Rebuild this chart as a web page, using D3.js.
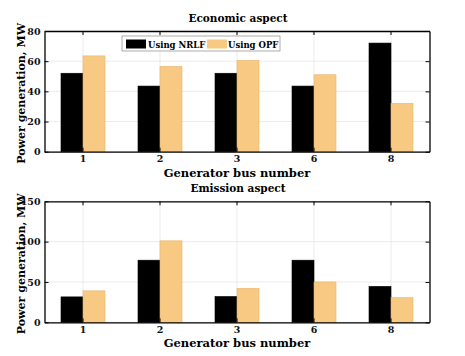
<!DOCTYPE html>
<html><head><meta charset="utf-8">
<script src="https://cdn.jsdelivr.net/npm/d3@7"></script>
<style>body{margin:0;background:#fff}svg{display:block}</style>
</head><body>
<svg id="c" width="465" height="356"></svg>
<script>
const categories = ["1","2","3","6","8"];
const seriesNames = ["Using NRLF","Using OPF"];
const economicNRLF = [52, 43.5, 52, 43.5, 72];
const economicOPF  = [63.5, 56.5, 60.5, 51, 32];
const emissionNRLF = [31.5, 77, 32, 77, 44.5];
const emissionOPF  = [39, 101, 42, 50, 30.5];
const econTicks = [0,20,40,60,80];
const emisTicks = [0,50,100,150];
const colors = ["#000000","#F8C982"];

const svg = d3.select("#c");
const FONT = "DejaVu Serif";
const L = 44.5, R = 429.5;

function panel(top, bottom, title, s1, s2, ymax, ticks, legend){
  const g = svg.append("g");
  const x = d3.scaleBand().domain(categories).range([L,R]).paddingInner(0).paddingOuter(0);
  const y = d3.scaleLinear().domain([0,ymax]).range([bottom,top]);
  const bw = 22;
  // grid
  g.selectAll(".gx").data(categories).enter().append("line")
    .attr("x1",d=>x(d)+x.bandwidth()/2).attr("x2",d=>x(d)+x.bandwidth()/2)
    .attr("y1",top).attr("y2",bottom).attr("stroke","#e6e6e6").attr("stroke-width",0.8);
  g.selectAll(".gy").data(ticks).enter().append("line")
    .attr("x1",L).attr("x2",R).attr("y1",d=>y(d)).attr("y2",d=>y(d))
    .attr("stroke","#e6e6e6").attr("stroke-width",0.8);
  // bars
  const data = categories.map((c,i)=>({c, v:[s1[i], s2[i]]}));
  [0,1].forEach(k=>{
    g.selectAll(".b"+k).data(data).enter().append("rect")
      .attr("x",d=>x(d.c)+x.bandwidth()/2 + (k===0?-bw:0))
      .attr("width",bw)
      .attr("y",d=>y(d.v[k]))
      .attr("height",d=>y(0)-y(d.v[k]))
      .attr("fill",colors[k])
      .attr("stroke", k===0?"#000":"#e8b46a").attr("stroke-width",0.6);
  });
  // axes
  const ax = g.append("g").attr("transform",`translate(0,${bottom})`)
    .call(d3.axisBottom(x).tickSizeInner(-4).tickSizeOuter(0).tickPadding(4));
  const axT = g.append("g").attr("transform",`translate(0,${top})`)
    .call(d3.axisTop(x).tickSizeInner(-4).tickSizeOuter(0).tickFormat(""));
  const ay = g.append("g").attr("transform",`translate(${L},0)`)
    .call(d3.axisLeft(y).tickValues(ticks).tickSizeInner(-4).tickSizeOuter(0).tickPadding(4));
  const ayR = g.append("g").attr("transform",`translate(${R},0)`)
    .call(d3.axisRight(y).tickValues(ticks).tickSizeInner(-4).tickSizeOuter(0).tickFormat(""));
  [ax,axT,ay,ayR].forEach(a=>{
    a.selectAll(".domain").attr("stroke","#000").attr("stroke-width",1.3);
    a.selectAll(".tick line").attr("stroke","#000").attr("stroke-width",1);
    a.selectAll("text").attr("font-family",FONT).attr("font-weight","bold").attr("font-size",9.5).attr("fill","#111");
  });
  // title
  g.append("text").attr("x",(L+R)/2+1).attr("y",top-9).attr("text-anchor","middle")
    .attr("font-family",FONT).attr("font-weight","bold").attr("font-size",10.5).text(title);
  // x label
  g.append("text").attr("x",(L+R)/2).attr("y",bottom+25).attr("text-anchor","middle")
    .attr("font-family",FONT).attr("font-weight","bold").attr("font-size",11.5).text("Generator bus number");
  // y label
  g.append("text").attr("transform",`translate(25,${(top+bottom)/2+2}) rotate(-90)`).attr("text-anchor","middle")
    .attr("font-family",FONT).attr("font-weight","bold").attr("font-size",11).text("Power generation, MW");
  if(legend){
    const lg = g.append("g");
    lg.append("rect").attr("x",122).attr("y",36).attr("width",158).attr("height",15)
      .attr("fill","#fff").attr("stroke","#999").attr("stroke-width",0.8);
    const pos = [[126,148],[207,228]];
    seriesNames.forEach((n,i)=>{
      lg.append("rect").attr("x",pos[i][0]).attr("y",39.5).attr("width",20).attr("height",9).attr("fill",colors[i]);
      lg.append("text").attr("x",pos[i][1]).attr("y",47.5).attr("font-family",FONT).attr("font-weight","bold")
        .attr("font-size",8.5).text(n);
    });
  }
}
panel(31, 151.7, "Economic aspect", economicNRLF, economicOPF, 80, econTicks, true);
panel(201.3, 322.3, "Emission aspect", emissionNRLF, emissionOPF, 150, emisTicks, false);
</script>
</body></html>
